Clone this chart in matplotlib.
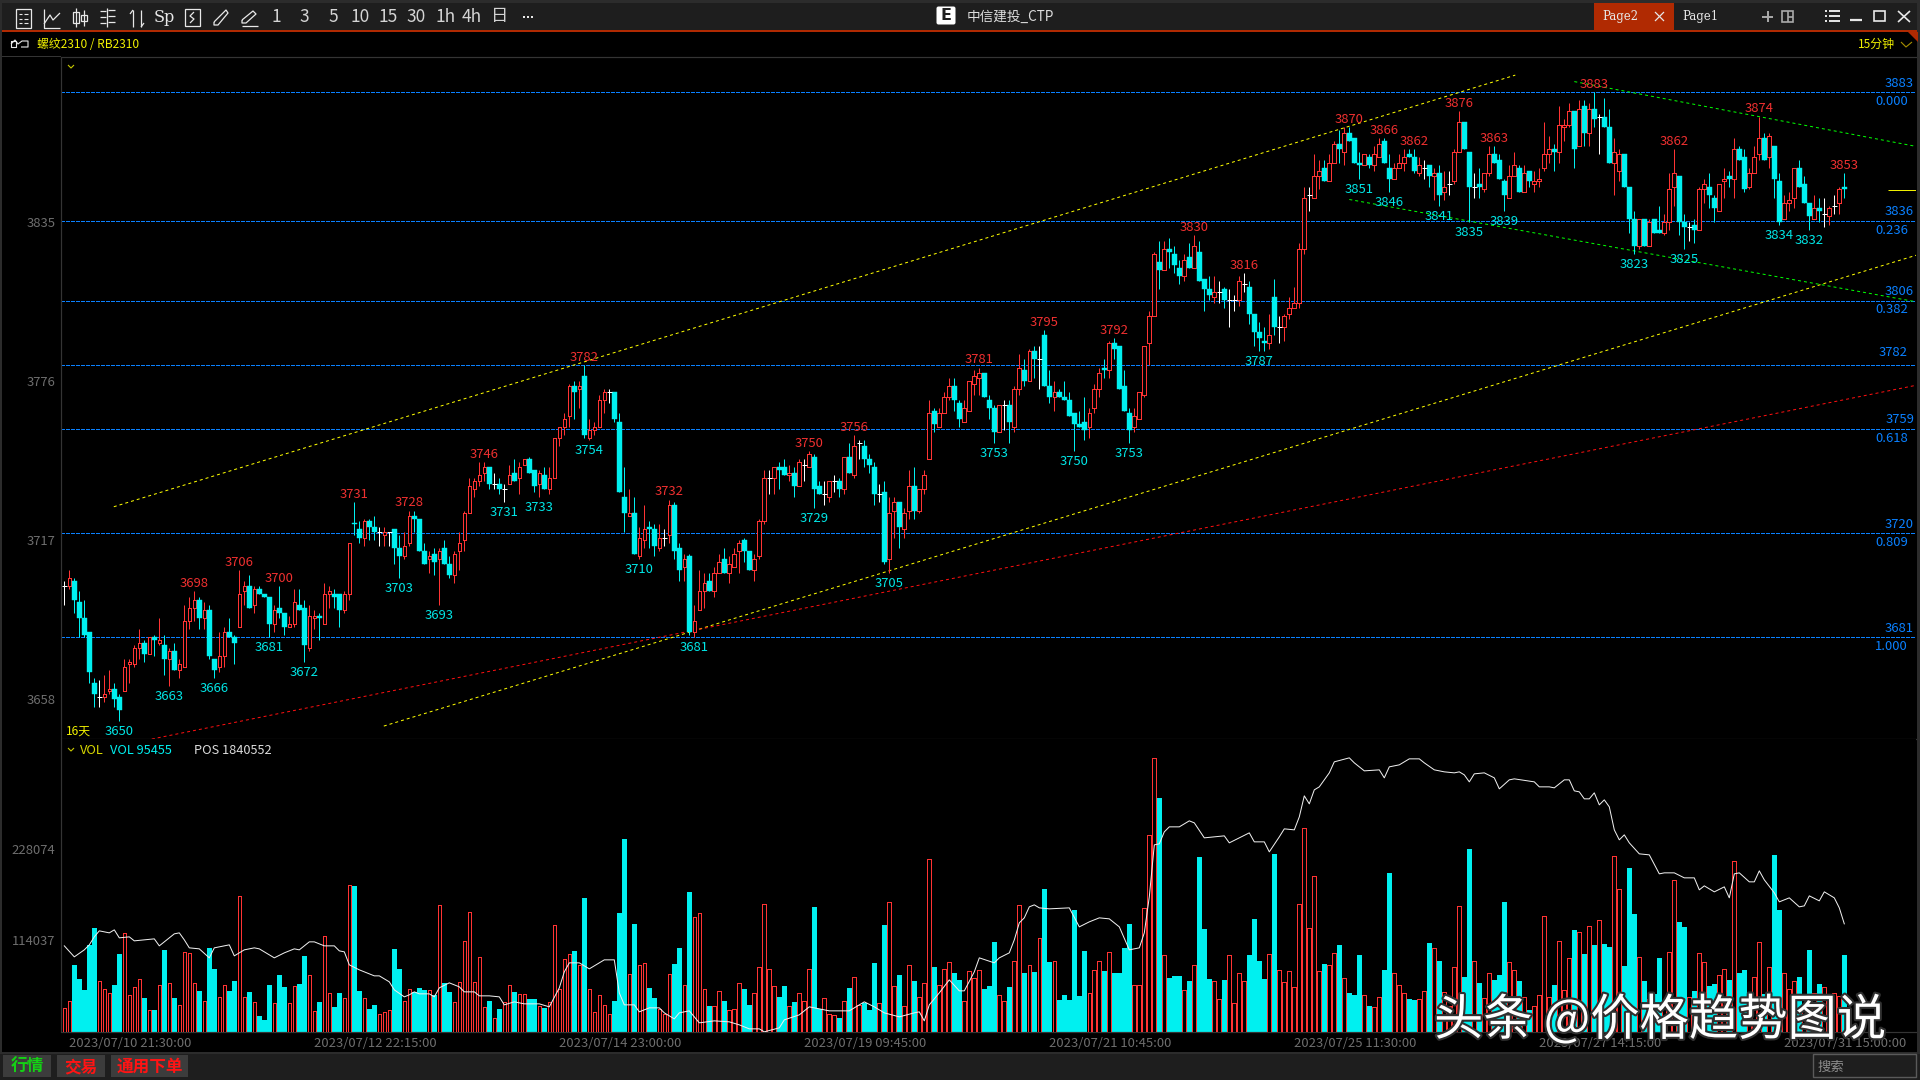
import matplotlib
matplotlib.use("Agg")
import matplotlib.pyplot as plt
import matplotlib.patheffects as pe
from matplotlib.patches import Rectangle, FancyBboxPatch, Polygon

plt.rcParams['font.family'] = ['Noto Sans CJK SC', 'DejaVu Sans']

# candles, one bar per 15 minutes
opens = [3700,3700,3702,3694,3688,3683,3664,3659,3659,3661,
    3662,3659,3661,3671,3671,3677,3679,3675,3681,3679,
    3678,3673,3676,3669,3670,3687,3692,3695,3688,3691,
    3673,3670,3674,3683,3681,3685,3698,3700,3693,3699,
    3697,3696,3686,3692,3690,3685,3686,3693,3692,3677,
    3688,3689,3686,3697,3697,3697,3691,3697,3723.5,3721,
    3718,3724,3722,3720,3719,3720,3721,3714,3711,3716,
    3726,3725,3713,3710,3712,3710,3714,3708,3704,3713,
    3717,3727,3736,3739,3742,3744,3738,3738,3736,3738,
    3742,3740,3745,3747,3743,3738,3741,3736,3740,3755,
    3759,3763,3774,3773,3778,3755,3758,3759,3769,3772,
    3772,3761,3733,3726,3727,3711,3717,3722,3721,3714,
    3718,3719,3730,3714,3707,3711,3683,3691,3698,3702,
    3698,3705,3710,3705,3707,3713,3717,3713,3706,3711,
    3724,3740,3740,3744,3744,3741,3742,3737,3745,3744,
    3748,3737,3734,3733,3739,3739,3736,3748,3741,3753,
    3752,3747,3744,3734,3735,3710,3728,3731,3721,3728,
    3737,3728,3736,3747,3765,3759,3764,3770,3774,3768,
    3761,3765,3775,3777,3779,3769,3766,3757,3767,3767,
    3759,3773,3780,3776,3787,3784,3793,3774,3770,3772,
    3770,3769,3764,3760,3761,3759,3766,3773,3781,3780,
    3790,3789,3774,3764,3759,3762,3771,3790,3800,3820,
    3817,3825,3823,3818,3815,3822,3818,3824,3814,3810,
    3807,3809,3810,3806,3806,3806,3812,3811,3801,3794,
    3791,3790,3807,3796,3796,3801,3803,3805,3825,3845,
    3844,3852,3855,3850,3857,3864,3861,3868,3866,3857,
    3856,3859,3856,3859,3865,3855,3851,3855,3857,3860,
    3859,3853,3855,3856,3852,3853,3846,3849,3850,3861,
    3872,3861,3848,3849,3847,3853,3860,3858,3850,3844,
    3852,3855,3846,3854,3849,3850,3855,3860,3862,3861,
    3870,3871,3876,3863,3878,3868,3877,3874,3874,3870,
    3857,3854,3860,3848,3836,3826,3836,3826,3836,3832,
    3831,3835,3848,3852,3835,3833,3834,3832,3847,3848,
    3844,3839,3850,3852,3851,3862,3859,3848,3853,3860,
    3866,3859,3863,3850,3836,3842,3844,3855,3849,3842,
    3836,3840,3838,3837,3841,3842,3848]
closes = [3700,3703,3695,3688,3682,3668,3660,3659,3660,3662,
    3658,3654,3670,3672,3677,3679,3675,3681,3680,3680,
    3673,3676,3669,3671,3687,3692,3695,3688,3691,3674,
    3669,3674,3683,3681,3679,3697,3700,3692,3699,3697,
    3696,3686,3691,3690,3685,3686,3694,3691,3678,3689,
    3689,3688,3697,3698,3696,3691,3697,3716,3723,3718,
    3724,3722,3720,3720,3720,3720,3714,3711,3715,3726,
    3725,3713,3708,3711,3709,3713,3708,3704,3712,3716,
    3727,3737,3739,3741,3744,3738,3738,3736,3736,3741,
    3739,3744,3747,3742,3737,3742,3736,3740,3755,3759,
    3762,3774,3772,3774,3756,3758,3759,3769,3772,3772,
    3762,3735,3727,3727,3712,3718,3721,3721,3715,3718,
    3718,3730,3713,3706,3710,3683,3687,3698,3701,3698,
    3705,3709,3705,3708,3712,3716,3713,3706,3710,3724,
    3740,3740,3744,3743,3741,3742,3737,3746,3745,3749,
    3736,3734,3734,3739,3739,3736,3748,3742,3752,3753,
    3747,3745,3734,3734,3709,3727,3731,3722,3727,3737,
    3728,3736,3741,3764,3760,3764,3770,3774,3769,3762,
    3766,3776,3778,3779,3770,3766,3757,3767,3767,3761,
    3773,3781,3776,3787,3784,3784,3774,3770,3772,3770,
    3769,3763,3760,3759,3758,3764,3773,3779,3780,3790,
    3788,3773,3765,3758,3763,3772,3789,3800,3823,3817,
    3825,3824,3819,3815,3821,3818,3826,3813,3810,3808,
    3809,3809,3806,3806,3806,3813,3812,3801,3794,3792,
    3790,3793,3796,3796,3800,3803,3805,3825,3844,3845,
    3852,3854,3850,3857,3864,3862,3868,3865,3857,3856,
    3860,3856,3860,3864,3857,3851,3855,3857,3859,3859,
    3854,3856,3855,3852,3853,3845,3848,3849,3861,3872,
    3862,3848,3848,3848,3853,3860,3857,3851,3845,3852,
    3856,3846,3853,3850,3850,3851,3860,3862,3861,3871,
    3871,3876,3862,3877,3868,3877,3873,3874,3870,3857,
    3861,3860,3848,3836,3826,3836,3826,3835,3831,3831,
    3835,3847,3853,3835,3833,3833,3832,3847,3849,3845,
    3840,3849,3851,3851,3862,3858,3847,3853,3859,3866,
    3858,3867,3851,3835,3842,3843,3855,3848,3842,3837,
    3840,3839,3838,3840,3841,3847,3847]
highs = [3702,3706,3703,3698,3695,3683,3666,3665,3667,3669,
    3664,3660,3673,3673,3678,3684,3680,3681,3682,3688,
    3682,3677,3679,3673,3693,3696,3698,3696,3694,3693,
    3673,3683,3685,3688,3682,3706,3702,3704,3700,3700,
    3697,3696,3693,3700,3690,3689,3699,3699,3695,3693,
    3691,3690,3701,3700,3699,3697,3698,3716,3731,3724,
    3725,3725,3726,3722,3722,3720,3721,3719,3720,3728,
    3728,3725,3716,3713,3714,3714,3717,3711,3713,3720,
    3728,3740,3740,3746,3746,3744,3742,3740,3738,3745,
    3747,3746,3747,3748,3743,3743,3744,3744,3755,3759,
    3764,3775,3776,3776,3782,3762,3761,3771,3773,3773,
    3772,3764,3744,3736,3733,3722,3730,3724,3723,3723,
    3721,3732,3731,3716,3712,3712,3693,3706,3705,3705,
    3707,3712,3714,3711,3714,3717,3718,3713,3712,3725,
    3743,3743,3744,3746,3747,3745,3744,3747,3747,3750,
    3749,3739,3739,3739,3741,3740,3748,3753,3756,3754,
    3754,3749,3746,3738,3739,3733,3733,3731,3729,3743,
    3744,3736,3743,3769,3766,3766,3772,3777,3777,3769,
    3769,3776,3780,3781,3779,3771,3767,3767,3769,3769,
    3774,3786,3784,3788,3789,3789,3795,3780,3776,3773,
    3776,3772,3764,3765,3770,3766,3775,3781,3784,3791,
    3792,3789,3780,3766,3766,3772,3789,3802,3824,3828,
    3828,3829,3826,3821,3823,3827,3830,3828,3814,3815,
    3815,3813,3811,3810,3808,3815,3816,3813,3801,3798,
    3796,3801,3814,3800,3801,3807,3811,3827,3848,3848,
    3860,3858,3858,3860,3865,3869,3870,3870,3866,3861,
    3860,3860,3863,3866,3866,3860,3857,3860,3862,3862,
    3862,3859,3858,3856,3855,3856,3854,3854,3862,3876,
    3872,3861,3853,3855,3853,3863,3863,3860,3851,3856,
    3861,3856,3856,3854,3854,3855,3872,3867,3864,3878,
    3873,3879,3876,3880,3880,3879,3883,3875,3881,3877,
    3866,3862,3860,3848,3839,3836,3836,3836,3836,3841,
    3838,3853,3862,3852,3838,3835,3836,3848,3851,3853,
    3845,3849,3855,3854,3866,3863,3862,3855,3863,3874,
    3868,3868,3863,3853,3845,3846,3855,3858,3852,3842,
    3845,3844,3844,3841,3845,3848,3853]
lows = [3693,3699,3690,3681,3681,3664,3655,3655,3657,3660,
    3655,3650,3661,3664,3670,3673,3672,3675,3674,3678,
    3667,3663,3669,3666,3670,3684,3687,3684,3684,3673,
    3666,3668,3670,3681,3671,3685,3693,3692,3690,3697,
    3696,3681,3683,3688,3682,3685,3685,3691,3672,3676,
    3684,3680,3686,3692,3692,3685,3690,3695,3719,3716,
    3715,3717,3717,3715,3715,3715,3708,3703,3710,3715,
    3720,3713,3708,3705,3704,3693,3708,3703,3701,3706,
    3713,3727,3733,3737,3739,3736,3736,3734,3731,3738,
    3739,3734,3745,3742,3735,3733,3736,3734,3740,3752,
    3756,3759,3762,3766,3755,3754,3756,3759,3764,3768,
    3761,3735,3720,3726,3712,3710,3714,3714,3711,3713,
    3715,3716,3710,3702,3702,3682,3681,3691,3692,3698,
    3696,3705,3705,3701,3707,3705,3709,3706,3702,3710,
    3723,3734,3734,3736,3741,3739,3733,3737,3739,3744,
    3729,3734,3730,3731,3735,3733,3734,3742,3740,3747,
    3744,3742,3730,3731,3708,3705,3718,3714,3718,3725,
    3725,3727,3734,3747,3757,3759,3764,3769,3765,3759,
    3761,3765,3771,3771,3770,3762,3753,3757,3758,3753,
    3757,3771,3774,3776,3777,3773,3774,3768,3765,3770,
    3769,3763,3750,3759,3754,3755,3764,3770,3777,3777,
    3784,3773,3765,3753,3757,3762,3770,3782,3800,3810,
    3817,3818,3816,3812,3813,3818,3818,3813,3802,3806,
    3805,3805,3803,3796,3802,3804,3809,3797,3789,3787,
    3787,3788,3793,3790,3791,3799,3803,3803,3823,3839,
    3844,3847,3850,3850,3857,3857,3856,3865,3857,3851,
    3856,3855,3854,3859,3857,3846,3851,3855,3854,3859,
    3853,3852,3851,3848,3843,3841,3843,3845,3849,3861,
    3862,3835,3844,3844,3846,3852,3857,3851,3839,3844,
    3852,3846,3846,3848,3846,3848,3854,3857,3854,3857,
    3865,3870,3855,3863,3863,3863,3870,3860,3870,3857,
    3845,3850,3848,3831,3823,3825,3826,3826,3831,3831,
    3830,3832,3841,3830,3825,3828,3827,3832,3842,3840,
    3835,3839,3844,3848,3844,3858,3846,3847,3853,3858,
    3858,3855,3844,3834,3836,3839,3840,3848,3842,3832,
    3836,3835,3833,3834,3838,3838,3844]

# volume in thousands of lots, and whether the bar is drawn red or cyan
volumes = [29.5,39,83.5,66,52,108,129,64,54,48,
    58.5,97,123,46,56,66,42,28,28,59,
    102,61,42,34,100,98,61,51,39,105,
    78,43,59,51,64,170,44,50,37,20,
    15,59,36,71,56,36,57,60,95,71,
    26,37,119,48,31,49,42,183,182,51,
    42,29,34,22,25,27,103,78,39,53,
    50,55,52,52,46,158,61,50,37,62,
    113,149,62,94,31,39,18,29,37,59,
    50,47,47,41,41,33,30,38,133,54,
    91,97,101,84,167,54,25,46,34,23,
    39,148,240,72,135,83,86,55,42,29,
    23,72,85,105,58,174,143,148,53,32,
    33,51,39,27,29,61,54,34,48,81,
    160,79,57,44,57,33,37,48,39,79,
    156,29,42,22,21,17,39,55,69,34,
    36,27,86,36,133,162,57,71,32,83,
    64,43,61,216,81,59,78,87,73,65,
    39,76,67,77,54,57,112,46,39,56,
    89,158,73,84,75,117,178,87,89,40,
    46,40,152,45,101,49,77,88,76,100,
    73,73,105,135,58,59,154,245,341,292,
    96,67,70,70,52,64,84,218,128,66,
    63,41,65,96,36,74,63,96,141,88,
    66,97,222,77,62,76,56,159,254,129,
    194,76,85,83,99,108,67,49,46,96,
    46,32,31,44,77,198,73,58,49,41,
    40,41,51,111,105,88,50,32,81,157,
    69,228,88,61,42,73,65,71,162,87,
    77,64,43,27,32,46,145,43,59,113,
    52,92,127,124,97,132,108,139,110,106,
    219,178,82,204,147,94,64,41,47,92,
    36,100,189,137,131,44,51,99,87,57,
    60,71,78,65,213,73,77,46,69,112,
    47,81,220,152,73,53,64,69,32,102,
    48,60,56,45,48,45,95.455]
vol_dirs = ("rrccccc" "rrr" "ccrrrrcrcr" "crcrrrrcrc" "crrccrrcrc" "ccrccrrcc" "r"
    "rcrrccrrcc" "rccrrrccrr" "cccrcrccrr" "rrrrrcrcrr" "crrccrcrrr"
    "rrcrcrrrrr" "cccrcrrccr" "rrccrcrrrc" "rrcrrrccrr" "rrrccrcrrr"
    "ccrrrcrcrr" "cccrcrrcrr" "crrrcrrrcc" "rrrrcccrrc" "rrcrcrccrc"
    "cccccrrrcr" "ccccrrrrrc" "rcccrcrccc" "rrcrrrrccc" "crcrrrrrrr"
    "rrcrrcrccc" "rcrrccrrrc" "crrcrcrrrr" "ccrcrrcccr" "rcrcrrrrcr"
    "rrcrcrcrcc" "rrcccrcrcc" "rrrccrcrrc" "crrcrccrrr" "crccrrrcrc"
    "rcrrrrc")

# open interest, read at the turning points of the white line (thousands)
pos_idx = [0,2,4,5,6,7,9,10,11,13,14,16,18,19,21,22,23,24,25,27,29,30,33,34,36,38,39,42,44,46,47,49,50,52,54,55,56,57,59,62,63,65,66,68,69,70,71,73,74,75,77,79,80,82,83,85,87,88,90,92,95,97,99,100,101,103,105,106,108,110,111,112,114,115,
    117,119,120,122,123,125,127,130,133,135,137,139,140,143,144,147,149,151,153,157,160,162,164,167,170,171,172,173,175,177,179,180,182,183,186,187,189,190,191,192,193,194,195,197,201,203,205,207,209,211,213,215,216,217,218,219,220,221,223,225,226,228,232,233,237,238,240,241,243,
    244,246,247,248,249,250,251,252,253,254,257,258,260,263,264,265,267,269,271,272,274,276,278,279,280,281,282,284,286,287,289,290,294,295,297,298,300,301,302,303,304,305,306,307,308,309,310,311,312,313,315,317,319,320,322,324,326,327,328,330,332,333,334,335,337,338,339,340,342,343,345,347,348,349,351,352,354,355,356]
pos_vals = [1819,1808,1815,1820,1828,1834,1832,1835,1827,1828,1824,1825,1826,1819,1827,1831,1832,1825,1817,1816,1807,1817,1820,1809,1815,1817,1816,1807,1812,1816,1815,1823,1823,1819,1819,1814,1813,1800,1795,1789,1789,1783,1775,1768,1770,1773,1771,1771,1768,1777,1782,1778,1773,1773,1769,1769,1768,1760,1763,1761,1761,1758,1777,1793,1802,1802,1796,1799,1805,1805,1772,1760,1760,1753,
    1757,1757,1752,1746,1752,1754,1742,1744,1743,1740,1736,1736,1733,1737,1745,1750,1758,1756,1754,1754,1763,1758,1752,1748,1752,1753,1744,1760,1772,1785,1774,1774,1793,1807,1802,1807,1812,1825,1842,1847,1858,1860,1857,1856,1857,1838,1843,1847,1846,1838,1815,1817,1832,1868,1920,1921,1933,1938,1938,1944,1942,1927,1929,1922,1932,1923,1923,1913,1928,
    1936,1935,1948,1969,1961,1975,1978,1985,1992,2003,2007,2002,1994,1995,1987,1998,2000,2006,2006,2002,1995,1993,1992,1993,1990,1983,1991,1992,1987,1976,1985,1986,1983,1978,1978,1977,1985,1985,1974,1973,1966,1966,1972,1960,1965,1958,1935,1925,1930,1922,1911,1910,1891,1892,1892,1887,1887,1875,1879,1873,1878,1867,1891,1892,1883,1883,1894,1885,1872,1863,1867,1858,1859,1869,1864,1873,1867,1857,1841]

# swing high / low labels
hi_idx = [26,35,43,58,69,84,104,121,149,158,183,196,210,226,236,257,264,270,279,286,306,322,339,356]
hi_txt = [3698,3706,3700,3731,3728,3746,3782,3732,3750,3756,3781,3795,3792,3830,3816,3870,3866,3862,3876,3863,3883,3862,3874,3853]
lo_idx = [11,21,30,41,48,67,75,88,95,105,115,126,150,165,186,202,213,239,259,265,275,281,288,314,324,343,349]
lo_txt = [3650,3663,3666,3681,3672,3703,3693,3731,3733,3754,3710,3681,3729,3705,3753,3750,3753,3787,3851,3846,3841,3835,3839,3823,3825,3834,3832]

# fibonacci levels
fib_prices = [3883,3835.3,3805.8,3782,3758.2,3719.6,3681]
fib_price_txt = ["3883","3836","3806","3782","3759","3720","3681"]
fib_ratio_txt = ["0.000","0.236","0.382",None,"0.618","0.809","1.000"]

# hand drawn trend lines (bar index, price)
yellow_up = ([9.9,290.2],[3729.4,3889.4])
yellow_lo = ([63.9,370.5],[3648.1,3822.7])
red_line = ([17.5,370.3],[3643.3,3774.4])
green_up = ([302,370.3],[3887,3863])
green_lo = ([257,370.3],[3843.3,3805.4])
last_price = 3846.7

y_ticks = [3835,3776,3717,3658]
vol_ticks = [114.037,228.074]
vol_tick_txt = ["114037","228074"]
date_idx = [1,50,99,148,197,246,295,344]
date_txt = ["2023/07/10 21:30:00","2023/07/12 22:15:00","2023/07/14 23:00:00","2023/07/19 09:45:00",
    "2023/07/21 10:45:00","2023/07/25 11:30:00","2023/07/27 14:15:00","2023/07/31 15:00:00"]

RED = "#ff3333"
CYAN = "#00f0f0"
BLUE = "#0a80ff"
GREY = "#6e6e6e"
LINE = "#343434"
BAR = "#1e1e1e"
W, H = 1920, 1080
PX = 0.72  # one pixel in points at dpi 100


def add_panel(left, top, right, bottom):
    return fig.add_axes([left / W, 1 - bottom / H, (right - left) / W, (bottom - top) / H])


fig = plt.figure(figsize=(19.2, 10.8), dpi=100, facecolor="black")

# --- price panel ---
ax = add_panel(61.5, 56.5, 1916, 739.3)
ax.set_facecolor("black")
ax.set_xlim(-0.56, 370.34)
ax.set_ylim(3643.2, 3896.3)
n = len(opens)
xs = list(range(n))

for p in fib_prices:
    ax.axhline(p, color=BLUE, lw=PX * 1.1, ls=(0, (3.6, 1.8)), zorder=1, antialiased=False)
for line, col in [(yellow_up, "#ffff00"), (yellow_lo, "#ffff00"), (red_line, "#ff1010"),
                  (green_up, "#00ff00"), (green_lo, "#00ff00")]:
    ax.plot(line[0], line[1], color=col, lw=PX, ls=(0, (3, 3)), zorder=2)
ax.hlines(last_price, 364.7, 370.34, color="#f0f000", lw=PX, zorder=2)

up = [i for i in xs if closes[i] > opens[i]]
down = [i for i in xs if closes[i] < opens[i]]
flat = [i for i in xs if closes[i] == opens[i]]

ax.vlines(up, [lows[i] for i in up], [highs[i] for i in up], color=RED, lw=PX, zorder=3)
ax.vlines(down, [lows[i] for i in down], [highs[i] for i in down], color=CYAN, lw=PX, zorder=3)
ax.vlines(flat, [lows[i] for i in flat], [highs[i] for i in flat], color="white", lw=PX, zorder=3)
# thin non antialiased edges keep the red bodies hollow at 4 px wide
ax.bar(up, [closes[i] - opens[i] for i in up], bottom=[opens[i] for i in up], width=0.72,
       facecolor="black", edgecolor=RED, linewidth=PX * 0.6, zorder=4, antialiased=False)
ax.bar(down, [opens[i] - closes[i] for i in down], bottom=[closes[i] for i in down], width=0.92,
       facecolor=CYAN, edgecolor=CYAN, linewidth=0.3, zorder=4)
ax.hlines([opens[i] for i in flat], [i - 0.5 for i in flat], [i + 0.5 for i in flat], color="white", lw=PX, zorder=4)

for i, t in zip(hi_idx, hi_txt):
    ax.annotate(str(t), (i, highs[i]), xytext=(0, 5.6), textcoords="offset points", ha="center", va="center",
                color="#f03030", fontsize=9.4, zorder=6)
for i, t in zip(lo_idx, lo_txt):
    ax.annotate(str(t), (i, lows[i]), xytext=(0, -7.6), textcoords="offset points", ha="center", va="center",
                color="#00e6e6", fontsize=9.4, zorder=6)

# level labels sit in the right margin, price above the line and ratio below it
for p, ptxt, rtxt in zip(fib_prices, fib_price_txt, fib_ratio_txt):
    right = 1908 if ptxt == "3782" else 1914
    above = -8.6 if ptxt == "3782" else -6.6
    ax.annotate(ptxt, (1, p), xycoords=("axes fraction", "data"), xytext=((right - 1916) * PX, -above),
                textcoords="offset points", ha="right", va="center", color=BLUE, fontsize=9.4, zorder=6)
    if rtxt:
        ax.annotate(rtxt, (1, p), xycoords=("axes fraction", "data"), xytext=((1908 - 1916) * PX, -6.6),
                    textcoords="offset points", ha="right", va="center", color=BLUE, fontsize=9.4, zorder=6)

ax.set_xticks([])
ax.set_yticks(y_ticks)
ax.tick_params(axis="y", length=0, pad=4.3, labelcolor=GREY, labelsize=9.4)
ax.spines["right"].set_visible(False)
for side in ["left", "top", "bottom"]:
    ax.spines[side].set_color(LINE)
    ax.spines[side].set_linewidth(PX * 1.2)

# --- volume panel ---
vx = add_panel(61.5, 739.3, 1916, 1032)
vx.set_facecolor("black")
vx.set_xlim(-0.56, 370.34)
vx.set_ylim(0, 364.7)
cyan_i = [i for i in xs if vol_dirs[i] == "c"]
red_i = [i for i in xs if vol_dirs[i] == "r"]
vx.bar(cyan_i, [volumes[i] for i in cyan_i], width=1.0, color=CYAN, linewidth=0, zorder=2)
vx.bar(red_i, [volumes[i] for i in red_i], width=0.72, facecolor="black", edgecolor=RED,
       linewidth=PX * 0.6, zorder=3, antialiased=False)
vx.set_yticks(vol_ticks)
vx.set_yticklabels(vol_tick_txt)
vx.set_xticks(date_idx)
vx.set_xticklabels(date_txt, ha="left")
vx.tick_params(axis="y", length=0, pad=4.3, labelcolor=GREY, labelsize=9.4)
vx.tick_params(axis="x", length=0, pad=3.6, labelcolor=GREY, labelsize=9.4)
vx.spines["right"].set_visible(False)
vx.spines["top"].set_visible(False)
for side in ["left", "bottom"]:
    vx.spines[side].set_color(LINE)
    vx.spines[side].set_linewidth(PX * 1.2)

px = vx.twinx()
px.set_ylim(1732.852, 2025.552)
px.plot(pos_idx, pos_vals, color="#f0f0f0", lw=PX, zorder=5)
px.axis("off")

# --- window furniture, in pixel coordinates ---
ui = fig.add_axes([0, 0, 1, 1], zorder=5)
ui.set_xlim(0, W)
ui.set_ylim(H, 0)
ui.axis("off")
ui.patch.set_alpha(0)


def box(x0, y0, x1, y1, fc, ec="none", lw=0.0):
    ui.add_patch(Rectangle((x0, y0), x1 - x0, y1 - y0, facecolor=fc, edgecolor=ec, linewidth=lw))


def seg(x, y, c="#e8e8e8", lw=0.9):
    ui.plot(x, y, color=c, lw=lw, solid_capstyle="butt")


def label(x, y, s, c="#e8e8e8", size=9.4, ha="center", **kw):
    ui.text(x, y, s, color=c, fontsize=size, ha=ha, va="center", **kw)


box(0, 0, W, 3, "#2c2c2c")
box(0, 3, W, 30, BAR)
box(0, 30, W, 32, "#b02a02")
box(0, 0, 2, H, "#2c2c2c")
box(1917, 0, W, H, "#2c2c2c")
box(2, 56, 61, 57, LINE)

# toolbar icons
box(16, 9, 31, 28, "none", "#e8e8e8", 0.9)
for yy in (14, 18.5, 23):
    seg([19, 22], [yy, yy], lw=0.8)
    seg([24, 28], [yy, yy], lw=0.8)
seg([44, 44, 60], [9, 28, 28])
seg([44, 50, 53, 60], [24, 15, 20, 13])
seg([76, 76], [8, 27])
box(72.5, 12, 79, 23, "none", "#e8e8e8", 0.9)
seg([84, 84], [10, 26])
box(81, 14.5, 87, 21, "none", "#e8e8e8", 0.9)
seg([107, 107], [8, 27])
for yy in (10, 16, 22):
    seg([100, 106], [yy + 1, yy + 1])
    seg([108, 115], [yy, yy])
seg([133, 133], [10, 27])
seg([133, 130], [10, 14])
seg([141, 141], [10, 27])
seg([141, 144], [27, 23])
label(164, 17, "Sp", size=11.5, family="DejaVu Serif")
box(184.5, 8.5, 200, 26, "none", "#e8e8e8", 0.9)
seg([194, 190, 194, 190], [12, 16, 19, 23])
seg([214, 226, 228, 218, 214, 214], [22, 10, 13, 25, 25, 22])
seg([242, 253, 256, 246, 242, 242], [20, 11, 14, 23, 23, 20])
seg([242, 258], [26, 26])
for cx, s in zip([276, 304, 333, 360, 388, 416, 446, 472, 500],
                 ["1", "3", "5", "10", "15", "30", "1h", "4h", "日"]):
    label(cx, 16.5, s, c="#d4d4d4", size=12.5)
for cx in (524, 528, 532):
    box(cx - 1, 16, cx + 1, 18, "#e8e8e8")

# title
ui.add_patch(FancyBboxPatch((938, 8), 16, 15, boxstyle="round,pad=1.5,rounding_size=2", facecolor="white", edgecolor="none"))
ui.text(946, 16, "E", color="#202020", fontsize=11.5, fontweight="bold", ha="center", va="center", family="DejaVu Sans")
label(967, 17, "中信建投_CTP", c="#dcdcdc", size=9.8, ha="left")

# tabs and window buttons
box(1594, 3, 1674, 30, "#b02a02")
label(1620, 16.5, "Page2", size=8.4, family="DejaVu Serif")
seg([1655, 1664], [12, 21], lw=0.9)
seg([1655, 1664], [21, 12], lw=0.9)
label(1700, 16.5, "Page1", size=8.4, family="DejaVu Serif")
seg([1762, 1773], [16.5, 16.5], c="#aaaaaa", lw=1.4)
seg([1767.5, 1767.5], [11, 22], c="#aaaaaa", lw=1.4)
box(1782, 11, 1793, 22, "none", "#aaaaaa", 1.2)
seg([1787.5, 1787.5], [11, 22], c="#aaaaaa", lw=1.2)
seg([1787.5, 1793], [16.5, 16.5], c="#aaaaaa", lw=1.2)
for yy in (11, 16, 21):
    seg([1825, 1827], [yy, yy], lw=1.4)
    seg([1829, 1840], [yy, yy], lw=1.4)
seg([1850, 1862], [20, 20], lw=1.6)
box(1874, 11, 1885, 21, "none", "#e8e8e8", 1.2)
seg([1898, 1910], [11, 22], lw=1.2)
seg([1898, 1910], [22, 11], lw=1.2)
ui.add_patch(Polygon([(1908, 32), (1918, 32), (1918, 42)], facecolor="#b02a02", edgecolor="none"))

# symbol row
seg([11, 16, 16, 11, 11], [41, 41, 47, 47, 41], lw=0.8)
seg([11, 15, 18, 22, 28, 28, 21], [44, 40, 44, 41, 41, 47, 47], lw=0.8)
label(37, 44, "螺纹2310 / RB2310", c="#f0f000", size=8.6, ha="left")
label(1876, 44, "15分钟", c="#f0f000", size=8.6)
seg([1901, 1906, 1912], [42, 47, 42], c="#a89000", lw=0.8)

# panel notes
seg([68, 71, 74], [65, 68, 65], c="#c8c800", lw=0.8)
label(79, 731, "16天", c="#f0f000", size=8.6)
seg([68, 71, 74], [748, 751, 748], c="#c8c800", lw=0.8)
label(80, 751, "VOL", c="#d8d800", size=9.2, ha="left")
label(110, 751, "VOL 95455", c="#00f0f0", size=9.2, ha="left")
label(193.5, 751, "POS 1840552", c="#dcdcdc", size=9.2, ha="left")

# bottom bar
box(0, 1052, W, 1080, BAR)
box(0, 1052, W, 1054, "#2c2c2c")
box(3, 1055, 51, 1077, "#3c3c3c")
box(57, 1055, 105, 1077, "#3c3c3c")
box(111, 1055, 188, 1077, "#3c3c3c")
label(27, 1067, "行情", c="#14d214", size=12, fontweight="bold")
label(81, 1067, "交易", c="#ff1414", size=12, fontweight="bold")
label(149.5, 1067, "通用下单", c="#ff1414", size=12, fontweight="bold")
box(1813, 1054, 1916, 1077, "none", "#5a5a5a", 1.0)
label(1817, 1067, "搜索", c="#8c8c8c", size=9.6, ha="left")

# watermark
ui.text(1434, 1021, "头条 @价格趋势图说", color="white", fontsize=35.5, ha="left", va="center",
        path_effects=[pe.withStroke(linewidth=3, foreground="#303030")])

fig.savefig("out.png", dpi=100, facecolor="black")
